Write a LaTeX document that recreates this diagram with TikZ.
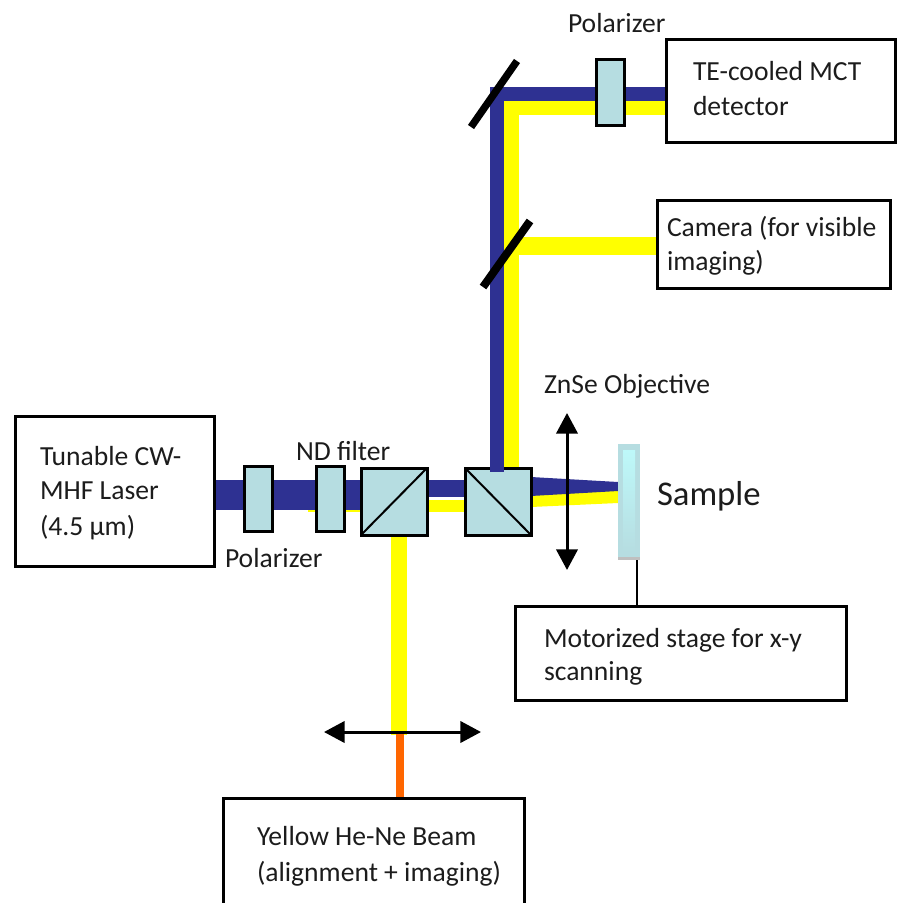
\documentclass[tikz,border=0pt]{standalone}
\usepackage{fontspec}
\setmainfont{Carlito}
\usetikzlibrary{arrows.meta}
\definecolor{beamblue}{HTML}{2E3192}
\definecolor{beamyellow}{HTML}{FFFF00}
\definecolor{beamorange}{HTML}{FF6600}
\definecolor{optic}{HTML}{B6DDE1}
\definecolor{txt}{HTML}{1C1C1C}
\tikzset{
  x=0.75pt,y=-0.75pt,
  boxnode/.style={draw=black,line width=2.25pt,fill=white},
  labeltext/.style={anchor=base west,inner sep=0pt,outer sep=0pt,text=txt,font=\fontsize{20.7}{20.7}\selectfont},
  opticpart/.style={draw=black,line width=2.25pt,fill=optic},
  bluebeam/.style={fill=beamblue},
  yellowbeam/.style={fill=beamyellow},
  mirror/.style={draw=black,line cap=butt},
  lens/.style={draw=black,line width=2.25pt,{Triangle[length=15.5pt,width=16pt]}-{Triangle[length=15.5pt,width=16pt]}},
}
\begin{document}
\begin{tikzpicture}
\useasboundingbox (0,0) rectangle (897,903);
\clip (0,0) rectangle (897,903);
% beams: yellow first
\fill[yellowbeam] (308,500) rectangle (465,512);
\fill[yellowbeam] (391,535) rectangle (407,735);
\fill[beamorange] (396,733) rectangle (404,798);
\fill[yellowbeam] (504,101) rectangle (519,468);
\fill[yellowbeam] (504,101) rectangle (666,115);
\fill[yellowbeam] (519,237) rectangle (657,255);
\fill[yellowbeam] (531,490) -- (618,490) -- (618,503) -- (531,507) -- cycle;
\fill[bluebeam] (214,480) rectangle (361,510);
\fill[bluebeam] (427,480) rectangle (465,497);
\fill[bluebeam] (490,87) rectangle (504,472);
\fill[bluebeam] (490,87) rectangle (666,101);
\fill[bluebeam] (531,477) -- (618,482) -- (618,491) -- (531,496) -- cycle;
% mirrors
\coordinate (m1a) at (517,61); \coordinate (m1b) at (471,127);
\coordinate (m2a) at (530,221); \coordinate (m2b) at (483,287);
\draw[mirror,line width=5.5pt] (m1a) -- (m1b);
\draw[mirror,line width=6pt] (m2a) -- (m2b);
% elements
\draw[opticpart] (244,466) rectangle (272,531);
\draw[opticpart] (316,466) rectangle (344,531);
\draw[opticpart] (596,59) rectangle (624,125);
\draw[opticpart] (361,468) rectangle (427,535);
\draw[black,line width=1.5pt] (361,535) -- (427,468);
\draw[opticpart] (465,468) rectangle (531,535);
\draw[black,line width=1.5pt] (465,468) -- (531,535);
\fill[bluebeam] (490,465) rectangle (504,472);
% lenses
\coordinate (l1a) at (567,413); \coordinate (l1b) at (567,570);
\draw[lens] (l1a) -- (l1b);
\coordinate (l2a) at (324,732); \coordinate (l2b) at (481,732);
\draw[lens] (l2a) -- (l2b);
% sample
\draw[black,line width=1pt] (637,557) -- (637,606);
\fill[black!25] (618,552) rectangle (640,560);
\fill[optic] (618,444) rectangle (640,557);
\shade[top color=white!75!cyan!80!optic,bottom color=optic] (623,450) rectangle (635,552);
% boxes
\draw[boxnode] (15,416) rectangle (214,566);
\draw[boxnode] (666,39) rectangle (895.5,142);
\draw[boxnode] (657,200) rectangle (890,288);
\draw[boxnode] (515,606) rectangle (846,700);
\draw[boxnode] (223,798) rectangle (524,910);
% labels
\node[labeltext] (t1) at (568,32) {Polarizer};
\node[labeltext] (t2) at (693,80) {TE-cooled MCT};
\node[labeltext] (t3) at (693,115) {detector};
\node[labeltext] (t4) at (667,236) {Camera (for visible};
\node[labeltext] (t5) at (667,270) {imaging)};
\node[labeltext] (t6) at (544,393) {ZnSe Objective};
\node[labeltext] (t7) at (40,465) {Tunable CW-};
\node[labeltext] (t8) at (40,499) {MHF Laser};
\node[labeltext] (t9) at (40,535) {(4.5 µm)};
\node[labeltext] (t10) at (296,460) {ND filter};
\node[labeltext] (t11) at (225,567) {Polarizer};
\node[labeltext,font=\fontsize{26}{26}\selectfont] (t12) at (657,505) {Sample};
\node[labeltext] (t13) at (544,647) {Motorized stage for x-y};
\node[labeltext] (t14) at (544,680) {scanning};
\node[labeltext] (t15) at (257,845) {Yellow He-Ne Beam};
\node[labeltext] (t16) at (257,881) {(alignment + imaging)};
\end{tikzpicture}
\end{document}
